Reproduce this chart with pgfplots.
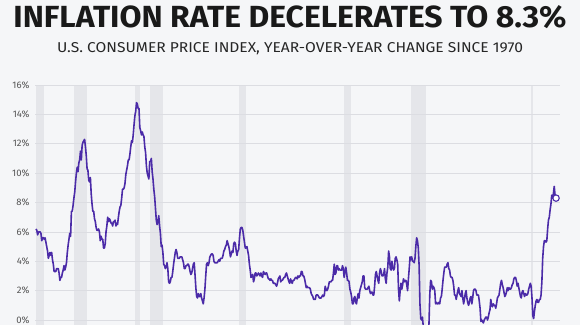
\documentclass[border=0pt]{standalone}
\usepackage{pgfplots}
\pgfplotsset{compat=1.18}
\usepackage{fontspec}
\setmainfont{Fira Sans}
\definecolor{bg}{HTML}{F5F6F8}
\definecolor{band}{HTML}{E5E6EA}
\definecolor{gridc}{HTML}{DCDDE2}
\definecolor{linec}{HTML}{4B2BA8}
\definecolor{tickc}{HTML}{555555}
\begin{document}
\begin{tikzpicture}[x=1pt,y=1pt]
\begin{axis}[
  set layers,
  scale only axis,
  width=525pt, height=240pt,
  at={(0,0)}, anchor=south west,
  xmin=1969.9, xmax=2023.0,
  ymin=-0.34, ymax=16,
  axis line style={draw=none},
  xtick=\empty,
  ytick={0,2,...,16},
  ymajorgrids,
  grid style={gridc, line width=0.6pt},
  major tick length=0pt,
  yticklabel={\pgfmathprintnumber{\tick}\%},
  /pgf/number format/assume math mode=true,
  yticklabel style={font=\fontsize{9.5}{10}\selectfont, text=tickc, xshift=-2pt},
  clip mode=individual,
]
\begin{pgfonlayer}{axis background}
\fill[bg] (rel axis cs:-0.0667,0) rectangle (rel axis cs:1.0381,1.3542);
\end{pgfonlayer}
% recession bands
\addplot[fill=band, draw=none, on layer=axis background] coordinates {(1969.95,-1) (1969.95,16) (1970.85,16) (1970.85,-1)};
\addplot[fill=band, draw=none, on layer=axis background] coordinates {(1973.85,-1) (1973.85,16) (1975.2,16) (1975.2,-1)};
\addplot[fill=band, draw=none, on layer=axis background] coordinates {(1980.0,-1) (1980.0,16) (1980.5,16) (1980.5,-1)};
\addplot[fill=band, draw=none, on layer=axis background] coordinates {(1981.5,-1) (1981.5,16) (1982.85,16) (1982.85,-1)};
\addplot[fill=band, draw=none, on layer=axis background] coordinates {(1990.5,-1) (1990.5,16) (1991.2,16) (1991.2,-1)};
\addplot[fill=band, draw=none, on layer=axis background] coordinates {(2001.2,-1) (2001.2,16) (2001.85,16) (2001.85,-1)};
\addplot[fill=band, draw=none, on layer=axis background] coordinates {(2007.9,-1) (2007.9,16) (2009.45,16) (2009.45,-1)};
\addplot[fill=band, draw=none, on layer=axis background] coordinates {(2020.1,-1) (2020.1,16) (2020.3,16) (2020.3,-1)};
% CPI YoY, monthly from Jan 1970
\addplot[linec, line width=1.6pt, line join=round] table[row sep=\\, header=false, y index=0, x expr=1970+\coordindex/12] {
6.2\\6.1\\5.8\\6.0\\6.0\\6.0\\5.9\\5.4\\5.6\\5.6\\5.5\\5.6\\
5.3\\5.0\\4.7\\4.2\\4.4\\4.6\\4.4\\4.6\\4.1\\3.8\\3.3\\3.3\\
3.3\\3.5\\3.5\\3.5\\3.2\\2.7\\2.9\\2.9\\3.2\\3.4\\3.7\\3.4\\
3.6\\3.9\\4.6\\5.1\\5.5\\5.9\\5.7\\7.4\\7.4\\7.8\\8.3\\8.7\\
9.4\\10.0\\10.4\\10.1\\10.7\\10.9\\11.5\\10.9\\11.9\\12.1\\12.2\\12.3\\
11.8\\11.2\\10.3\\10.2\\9.5\\9.4\\9.7\\8.6\\7.9\\7.4\\7.4\\6.9\\
6.7\\6.3\\6.1\\6.1\\6.2\\6.0\\5.4\\5.7\\5.5\\5.5\\4.9\\4.9\\
5.2\\6.0\\6.4\\7.0\\6.7\\6.9\\6.8\\6.6\\6.6\\6.4\\6.7\\6.7\\
6.8\\6.4\\6.6\\6.5\\7.0\\7.4\\7.7\\7.8\\8.3\\8.9\\8.9\\9.0\\
9.3\\9.9\\10.2\\10.5\\10.9\\10.9\\11.3\\11.8\\12.2\\12.1\\12.6\\13.3\\
13.9\\14.2\\14.8\\14.7\\14.4\\14.4\\13.1\\12.9\\12.6\\12.8\\12.6\\12.5\\
11.8\\11.4\\10.5\\10.0\\9.8\\9.6\\10.8\\10.8\\11.0\\10.1\\9.6\\8.9\\
8.4\\7.6\\6.8\\6.5\\6.7\\7.1\\6.4\\5.9\\5.0\\5.1\\4.6\\3.8\\
3.7\\3.5\\3.6\\3.9\\3.5\\2.6\\2.5\\2.6\\2.9\\2.9\\3.3\\3.8\\
4.2\\4.6\\4.8\\4.6\\4.2\\4.2\\4.2\\4.3\\4.3\\4.3\\4.1\\3.9\\
3.5\\3.5\\3.7\\3.7\\3.8\\3.8\\3.6\\3.3\\3.1\\3.2\\3.5\\3.8\\
3.9\\3.1\\2.2\\1.6\\1.5\\1.8\\1.6\\1.6\\1.8\\1.5\\1.3\\1.1\\
1.5\\2.1\\3.0\\3.8\\3.9\\3.7\\3.9\\4.3\\4.4\\4.5\\4.5\\4.4\\
4.0\\3.9\\3.9\\3.9\\3.9\\4.0\\4.1\\4.0\\4.2\\4.2\\4.2\\4.4\\
4.7\\4.8\\5.0\\5.1\\5.4\\5.2\\5.0\\4.7\\4.3\\4.5\\4.7\\4.6\\
5.2\\5.3\\5.2\\4.7\\4.4\\4.7\\4.8\\5.6\\6.2\\6.3\\6.3\\6.1\\
5.7\\5.3\\4.9\\4.9\\5.0\\4.7\\4.4\\3.8\\3.4\\2.9\\3.0\\3.1\\
2.6\\2.8\\3.2\\3.2\\3.0\\3.1\\3.2\\3.1\\3.0\\3.2\\3.0\\2.9\\
3.3\\3.2\\3.1\\3.2\\3.2\\3.0\\2.8\\2.8\\2.7\\2.8\\2.7\\2.7\\
2.5\\2.5\\2.5\\2.4\\2.3\\2.5\\2.8\\2.9\\3.0\\2.6\\2.7\\2.7\\
2.8\\2.9\\2.9\\3.1\\3.2\\3.0\\2.8\\2.6\\2.5\\2.8\\2.6\\2.5\\
2.7\\2.7\\2.8\\2.9\\2.9\\2.8\\3.0\\2.9\\3.0\\3.0\\3.3\\3.3\\
3.0\\3.0\\2.8\\2.5\\2.2\\2.3\\2.2\\2.2\\2.2\\2.1\\1.8\\1.7\\
1.6\\1.4\\1.4\\1.4\\1.7\\1.7\\1.7\\1.6\\1.5\\1.5\\1.5\\1.6\\
1.7\\1.6\\1.7\\2.3\\2.1\\2.0\\2.1\\2.3\\2.6\\2.6\\2.6\\2.7\\
2.7\\3.2\\3.8\\3.1\\3.2\\3.7\\3.7\\3.4\\3.5\\3.4\\3.4\\3.4\\
3.7\\3.5\\2.9\\3.3\\3.6\\3.2\\2.7\\2.7\\2.6\\2.1\\1.9\\1.6\\
1.1\\1.1\\1.5\\1.6\\1.2\\1.1\\1.5\\1.8\\1.5\\2.0\\2.2\\2.4\\
2.6\\3.0\\3.0\\2.2\\2.1\\2.1\\2.1\\2.2\\2.3\\2.0\\1.8\\1.9\\
1.9\\1.7\\1.7\\2.3\\3.1\\3.3\\3.0\\2.7\\2.5\\3.2\\3.5\\3.3\\
3.0\\3.0\\3.1\\3.5\\2.8\\2.5\\3.2\\3.6\\4.7\\4.3\\3.5\\3.4\\
4.0\\3.6\\3.4\\3.5\\4.2\\4.3\\4.1\\3.8\\2.1\\1.3\\2.0\\2.5\\
2.1\\2.4\\2.8\\2.6\\2.7\\2.7\\2.4\\2.0\\2.8\\3.5\\4.3\\4.1\\
4.3\\4.0\\4.0\\3.9\\4.2\\5.0\\5.6\\5.4\\4.9\\3.7\\1.1\\0.1\\
0.0\\0.2\\-0.4\\-0.7\\-1.3\\-1.4\\-2.1\\-1.5\\-1.3\\-0.2\\1.8\\2.7\\
2.6\\2.1\\2.3\\2.2\\2.0\\1.1\\1.2\\1.1\\1.1\\1.2\\1.1\\1.5\\
1.6\\2.1\\2.7\\3.2\\3.6\\3.6\\3.6\\3.8\\3.9\\3.5\\3.4\\3.0\\
2.9\\2.9\\2.7\\2.3\\1.7\\1.7\\1.4\\1.7\\2.0\\2.2\\1.8\\1.7\\
1.6\\2.0\\1.5\\1.1\\1.4\\1.8\\2.0\\1.5\\1.2\\1.0\\1.2\\1.5\\
1.6\\1.1\\1.5\\2.0\\2.1\\2.1\\2.0\\1.7\\1.7\\1.7\\1.3\\0.8\\
-0.1\\0.0\\-0.1\\-0.2\\0.0\\0.1\\0.2\\0.2\\0.0\\0.2\\0.5\\0.7\\
1.4\\1.0\\0.9\\1.1\\1.0\\1.0\\0.8\\1.1\\1.5\\1.6\\1.7\\2.1\\
2.5\\2.7\\2.4\\2.2\\1.9\\1.6\\1.7\\1.9\\2.2\\2.0\\2.2\\2.1\\
2.1\\2.2\\2.4\\2.5\\2.8\\2.9\\2.9\\2.7\\2.3\\2.5\\2.2\\1.9\\
1.6\\1.5\\1.9\\2.0\\1.8\\1.6\\1.8\\1.7\\1.7\\1.8\\2.1\\2.3\\
2.5\\2.3\\1.5\\0.3\\0.1\\0.6\\1.0\\1.3\\1.4\\1.2\\1.2\\1.4\\
1.4\\1.7\\2.6\\4.2\\5.0\\5.4\\5.4\\5.3\\5.4\\6.2\\6.8\\7.0\\
7.5\\7.9\\8.5\\8.3\\8.6\\9.1\\8.5\\8.3\\
};
\addplot[only marks, mark=*, mark size=3.2pt, mark options={fill=white, draw=linec, line width=1.1pt}] coordinates {(2022.6,8.3)};
\end{axis}
\node[anchor=base, text=black!90] at (255,298) {\resizebox{553pt}{22pt}{\bfseries INFLATION RATE DECELERATES TO 8.3\%}};
\node[anchor=base, text=black!85] at (255,273) {\resizebox{466pt}{10pt}{U.S. CONSUMER PRICE INDEX, YEAR-OVER-YEAR CHANGE SINCE 1970}};
\end{tikzpicture}
\end{document}
